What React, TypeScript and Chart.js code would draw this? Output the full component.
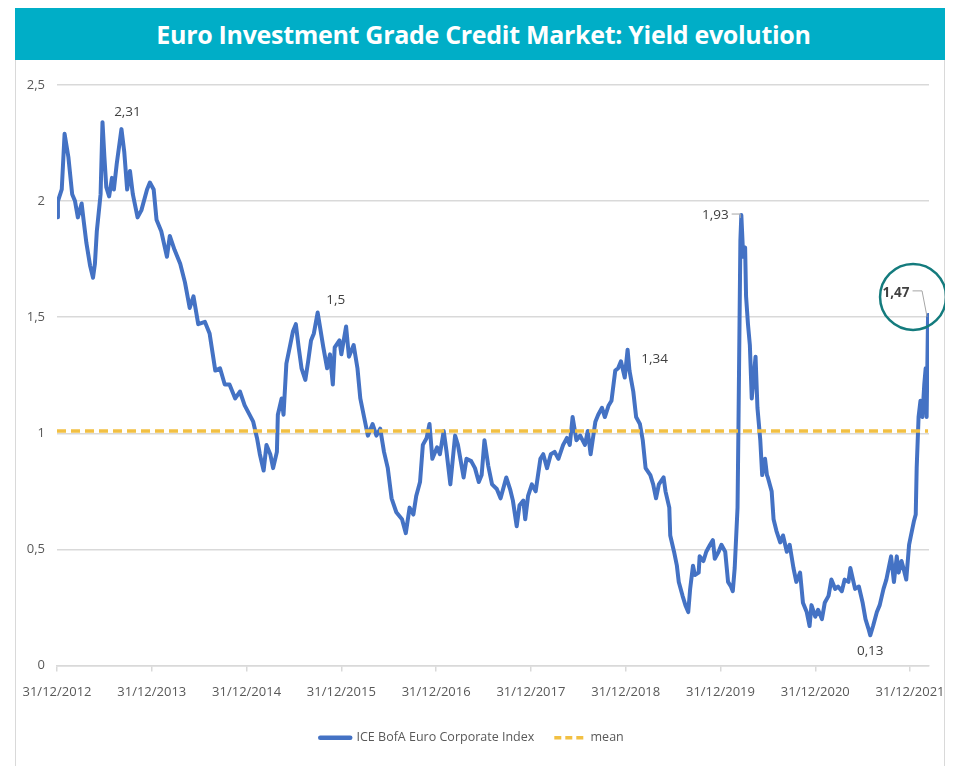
import React, { useEffect, useRef } from 'react';
import { Chart, registerables } from 'chart.js';

Chart.register(...registerables);

const TITLE = 'Euro Investment Grade Credit Market: Yield evolution';
const seriesName = 'ICE BofA Euro Corporate Index';
const meanName = 'mean';

// decimal years (31/12/2012 = 2013.00)
const dates = [
  2013.00, 2013.01, 2013.05, 2013.08, 2013.12, 2013.16, 2013.19, 2013.22, 2013.26, 2013.28,
  2013.31, 2013.35, 2013.38, 2013.40, 2013.42, 2013.45, 2013.46, 2013.48, 2013.50, 2013.52,
  2013.55, 2013.58, 2013.60, 2013.63, 2013.65, 2013.68, 2013.71, 2013.74, 2013.77, 2013.80,
  2013.85, 2013.89, 2013.95, 2013.98, 2014.02, 2014.05, 2014.10, 2014.16, 2014.19, 2014.24,
  2014.30, 2014.35, 2014.40, 2014.44, 2014.49, 2014.56, 2014.61, 2014.67, 2014.72, 2014.77,
  2014.82, 2014.88, 2014.93, 2014.98, 2015.07, 2015.11, 2015.14, 2015.18, 2015.21, 2015.25,
  2015.28, 2015.32, 2015.33, 2015.37, 2015.39, 2015.42, 2015.46, 2015.49, 2015.52, 2015.55,
  2015.58, 2015.62, 2015.65, 2015.68, 2015.71, 2015.75, 2015.77, 2015.81, 2015.85, 2015.88,
  2015.91, 2015.93, 2015.98, 2016.00, 2016.05, 2016.08, 2016.13, 2016.17, 2016.20, 2016.24,
  2016.28, 2016.33, 2016.37, 2016.41, 2016.45, 2016.49, 2016.53, 2016.58, 2016.64, 2016.68,
  2016.72, 2016.76, 2016.79, 2016.83, 2016.86, 2016.90, 2016.93, 2016.96, 2017.01, 2017.04,
  2017.08, 2017.11, 2017.15, 2017.20, 2017.23, 2017.29, 2017.32, 2017.37, 2017.41, 2017.45,
  2017.48, 2017.51, 2017.55, 2017.59, 2017.64, 2017.68, 2017.74, 2017.78, 2017.81, 2017.85,
  2017.88, 2017.92, 2017.94, 2017.97, 2018.01, 2018.05, 2018.10, 2018.13, 2018.17, 2018.21,
  2018.25, 2018.29, 2018.34, 2018.38, 2018.41, 2018.44, 2018.48, 2018.52, 2018.57, 2018.60,
  2018.63, 2018.68, 2018.71, 2018.75, 2018.78, 2018.82, 2018.85, 2018.89, 2018.92, 2018.95,
  2018.99, 2019.02, 2019.04, 2019.08, 2019.11, 2019.15, 2019.18, 2019.21, 2019.26, 2019.29,
  2019.32, 2019.35, 2019.40, 2019.42, 2019.46, 2019.47, 2019.51, 2019.54, 2019.56, 2019.60,
  2019.63, 2019.66, 2019.68, 2019.71, 2019.73, 2019.77, 2019.78, 2019.82, 2019.85, 2019.89,
  2019.92, 2019.94, 2019.98, 2020.01, 2020.05, 2020.08, 2020.11, 2020.13, 2020.15, 2020.18,
  2020.19, 2020.21, 2020.22, 2020.24, 2020.26, 2020.27, 2020.29, 2020.31, 2020.33, 2020.35,
  2020.37, 2020.39, 2020.42, 2020.44, 2020.47, 2020.49, 2020.50, 2020.54, 2020.56, 2020.59,
  2020.63, 2020.66, 2020.70, 2020.73, 2020.77, 2020.80, 2020.84, 2020.87, 2020.91, 2020.93,
  2020.94, 2020.96, 2021.00, 2021.03, 2021.07, 2021.10, 2021.14, 2021.17, 2021.21, 2021.24,
  2021.28, 2021.31, 2021.35, 2021.37, 2021.42, 2021.46, 2021.50, 2021.53, 2021.56, 2021.58,
  2021.61, 2021.65, 2021.68, 2021.72, 2021.75, 2021.78, 2021.80, 2021.83, 2021.86, 2021.88,
  2021.91, 2021.93, 2021.96, 2021.99, 2022.01, 2022.04, 2022.06, 2022.07, 2022.09, 2022.11,
  2022.13, 2022.15, 2022.165, 2022.175, 2022.19,
];

const yields = [
  1.93, 2.00, 2.05, 2.29, 2.19, 2.03, 2.00, 1.93, 1.99, 1.92,
  1.82, 1.72, 1.67, 1.73, 1.87, 1.99, 2.03, 2.34, 2.19, 2.06,
  2.02, 2.10, 2.05, 2.16, 2.22, 2.31, 2.21, 2.05, 2.13, 2.03,
  1.93, 1.96, 2.05, 2.08, 2.05, 1.92, 1.87, 1.76, 1.85, 1.79,
  1.73, 1.65, 1.54, 1.59, 1.47, 1.48, 1.43, 1.27, 1.28, 1.21,
  1.21, 1.15, 1.18, 1.12, 1.05, 0.98, 0.91, 0.84, 0.95, 0.91,
  0.85, 0.92, 1.08, 1.15, 1.08, 1.30, 1.38, 1.44, 1.47, 1.37,
  1.28, 1.23, 1.31, 1.40, 1.43, 1.52, 1.47, 1.37, 1.28, 1.34,
  1.21, 1.37, 1.40, 1.34, 1.46, 1.33, 1.38, 1.28, 1.15, 1.07,
  0.99, 1.04, 0.99, 1.02, 0.92, 0.85, 0.72, 0.66, 0.63, 0.57,
  0.68, 0.65, 0.73, 0.79, 0.95, 0.98, 1.04, 0.89, 0.94, 0.91,
  1.01, 0.92, 0.78, 0.99, 0.95, 0.81, 0.89, 0.88, 0.85, 0.79,
  0.82, 0.97, 0.86, 0.78, 0.76, 0.72, 0.81, 0.76, 0.71, 0.60,
  0.69, 0.71, 0.63, 0.73, 0.78, 0.75, 0.89, 0.91, 0.85, 0.91,
  0.92, 0.89, 0.95, 0.98, 0.95, 1.07, 0.97, 0.99, 0.95, 1.01,
  0.91, 1.05, 1.08, 1.11, 1.07, 1.12, 1.14, 1.27, 1.28, 1.31,
  1.24, 1.36, 1.27, 1.18, 1.07, 1.04, 0.97, 0.85, 0.82, 0.78,
  0.72, 0.78, 0.81, 0.75, 0.68, 0.56, 0.49, 0.43, 0.36, 0.30,
  0.26, 0.23, 0.33, 0.43, 0.39, 0.40, 0.47, 0.45, 0.49, 0.52,
  0.54, 0.46, 0.49, 0.52, 0.49, 0.36, 0.34, 0.32, 0.42, 0.68,
  1.04, 1.83, 1.94, 1.76, 1.80, 1.59, 1.47, 1.38, 1.15, 1.24,
  1.33, 1.11, 0.97, 0.82, 0.89, 0.82, 0.81, 0.75, 0.63, 0.58,
  0.53, 0.56, 0.49, 0.52, 0.42, 0.36, 0.40, 0.27, 0.23, 0.19,
  0.17, 0.26, 0.21, 0.24, 0.20, 0.27, 0.30, 0.37, 0.33, 0.34,
  0.32, 0.37, 0.36, 0.42, 0.33, 0.34, 0.27, 0.20, 0.16, 0.13,
  0.17, 0.23, 0.26, 0.33, 0.37, 0.43, 0.47, 0.36, 0.47, 0.40,
  0.45, 0.42, 0.37, 0.52, 0.56, 0.62, 0.65, 0.85, 1.07, 1.14,
  1.07, 1.21, 1.28, 1.07, 1.51,
];

const meanValue = 1.01;

const yearTicks = [2013, 2014, 2015, 2016, 2017, 2018, 2019, 2020, 2021, 2022];
const tickLabels = [
  '31/12/2012', '31/12/2013', '31/12/2014', '31/12/2015', '31/12/2016',
  '31/12/2017', '31/12/2018', '31/12/2019', '31/12/2020', '31/12/2021',
];
const yTickValues = [0, 0.5, 1, 1.5, 2, 2.5];
const yTickLabels = ['0', '0,5', '1', '1,5', '2', '2,5'];

// labelled points (dates of the points that carry a value label)
const labelDates = [2013.68, 2015.75, 2020.22, 2019.02, 2021.58, 2022.19];
const labelTexts = ['2,31', '1,5', '1,93', '1,34', '0,13', '1,47'];

const X_MIN = 2013;
const X_MAX = 2022.2;

const FONT = "'Open Sans', 'Noto Sans', sans-serif";
const BLUE = '#4472C4';
const GOLD = '#F2C043';

const annotationPlugin = {
  id: 'valueLabels',
  afterDatasetsDraw(chart: any) {
    const { ctx, scales } = chart;
    const xs = scales.x;
    const ys = scales.y;
    const styles: any[] = [
      { dx: 6, dy: -17 },
      { dx: 18, dy: -12 },
      { dx: -26, dy: 0, leader: 'left' },
      { dx: 27, dy: 9 },
      { dx: 0, dy: 16 },
      { dx: -32, dy: -22, bold: true, leader: 'end', circle: { dx: -15, dy: -18, r: 33 } },
    ];
    ctx.save();
    labelDates.forEach((d, i) => {
      const idx = dates.indexOf(d);
      if (idx < 0) return;
      const px = xs.getPixelForValue(d);
      const py = ys.getPixelForValue(yields[idx]);
      const st = styles[i];
      const tx = px + st.dx;
      const ty = py + st.dy;
      ctx.font = `${st.bold ? 'bold ' : ''}13.5px ${FONT}`;
      ctx.fillStyle = '#404040';
      ctx.textAlign = 'center';
      ctx.textBaseline = 'middle';
      ctx.fillText(labelTexts[i], tx, ty);
      const w = ctx.measureText(labelTexts[i]).width;
      ctx.strokeStyle = '#A6A6A6';
      ctx.lineWidth = 1;
      if (st.leader === 'left') {
        ctx.beginPath();
        ctx.moveTo(tx + w / 2 + 3, ty - 1);
        ctx.lineTo(px - 1, ty - 1);
        ctx.lineTo(px - 1, ty + 3);
        ctx.stroke();
      } else if (st.leader === 'end') {
        ctx.beginPath();
        ctx.moveTo(tx + w / 2 + 3, ty - 2);
        ctx.lineTo(px - 6, ty - 2);
        ctx.lineTo(px - 1, py + 2);
        ctx.stroke();
      }
      if (st.circle) {
        ctx.beginPath();
        ctx.strokeStyle = '#147B7D';
        ctx.lineWidth = 2.5;
        ctx.arc(px + st.circle.dx, py + st.circle.dy, st.circle.r, 0, Math.PI * 2);
        ctx.stroke();
      }
    });
    ctx.restore();
  },
};

function App() {
  const canvasRef = useRef<HTMLCanvasElement | null>(null);

  useEffect(() => {
    if (!canvasRef.current) return;
    const lineData = dates.map((d, i) => ({ x: d, y: yields[i] }));
    const meanData = [
      { x: X_MIN, y: meanValue },
      { x: dates[dates.length - 1], y: meanValue },
    ];
    const chart = new Chart(canvasRef.current, {
      type: 'line',
      data: {
        datasets: [
          {
            label: seriesName,
            data: lineData,
            borderColor: BLUE,
            backgroundColor: BLUE,
            borderWidth: 4,
            pointRadius: 0,
            tension: 0,
            borderJoinStyle: 'round',
            borderCapStyle: 'round',
            order: 2,
          },
          {
            label: meanName,
            data: meanData,
            borderColor: GOLD,
            backgroundColor: GOLD,
            borderWidth: 3.5,
            borderDash: [9, 5],
            pointRadius: 0,
            order: 1,
          },
        ],
      },
      options: {
        responsive: false,
        animation: false,
        devicePixelRatio: 1,
        layout: { padding: { left: 0, right: 16, top: 25, bottom: 12 } },
        scales: {
          x: {
            type: 'linear',
            min: X_MIN,
            max: X_MAX,
            afterBuildTicks: (scale: any) => {
              scale.ticks = yearTicks.map((v) => ({ value: v }));
            },
            afterFit: (scale: any) => {
              scale.height = 46;
              scale.paddingLeft = 0;
              scale.paddingRight = 0;
            },
            ticks: {
              autoSkip: false,
              maxRotation: 0,
              minRotation: 0,
              padding: 13,
              color: '#595959',
              font: { family: FONT, size: 13 },
              callback: (v: any) => {
                const i = yearTicks.indexOf(Number(v));
                return i >= 0 ? tickLabels[i] : '';
              },
            },
            grid: {
              drawOnChartArea: false,
              drawTicks: true,
              tickLength: 6,
              color: '#D9D9D9',
              lineWidth: 1.5,
            },
            border: { display: true, color: '#D9D9D9', width: 1.5 },
          },
          y: {
            type: 'linear',
            min: 0,
            max: 2.5,
            afterBuildTicks: (scale: any) => {
              scale.ticks = yTickValues.map((v) => ({ value: v }));
            },
            afterFit: (scale: any) => {
              scale.width = 42;
              scale.paddingTop = 0;
              scale.paddingBottom = 0;
            },
            ticks: {
              padding: 12,
              color: '#595959',
              font: { family: FONT, size: 13 },
              callback: (v: any) => {
                const i = yTickValues.indexOf(Number(v));
                return i >= 0 ? yTickLabels[i] : '';
              },
            },
            grid: {
              color: '#D9D9D9',
              lineWidth: 1.5,
              drawTicks: false,
            },
            border: { display: false },
          },
        },
        plugins: {
          title: { display: false },
          tooltip: { enabled: false },
          legend: {
            display: true,
            position: 'bottom',
            labels: {
              usePointStyle: true,
              pointStyle: 'line',
              pointStyleWidth: 30,
              padding: 20,
              color: '#595959',
              font: { family: FONT, size: 12.5 },
              generateLabels: (c: any) =>
                c.data.datasets.map((ds: any, i: number) => ({
                  text: ds.label,
                  datasetIndex: i,
                  fillStyle: ds.borderColor,
                  strokeStyle: ds.borderColor,
                  fontColor: '#595959',
                  lineWidth: i === 0 ? 4.5 : 3.5,
                  lineDash: i === 0 ? [] : [7, 4],
                  lineCap: i === 0 ? 'round' : 'butt',
                  pointStyle: 'line',
                  hidden: false,
                })),
            },
          },
        },
      },
      plugins: [annotationPlugin],
    } as any);
    return () => chart.destroy();
  }, []);

  return (
    <div style={{ position: 'relative', width: 939, height: 758 }}>
      <div
        style={{
          position: 'absolute',
          left: 7,
          top: 0,
          width: 930,
          height: 52,
          boxSizing: 'border-box',
          paddingLeft: 7,
          background: '#00AEC7',
          color: '#ffffff',
          fontFamily: FONT,
          fontWeight: 700,
          fontSize: 25,
          display: 'flex',
          alignItems: 'center',
          justifyContent: 'center',
          letterSpacing: -0.3,
        }}
      >
        {TITLE}
      </div>
      <div
        style={{
          position: 'absolute',
          left: 7,
          top: 52,
          width: 930,
          height: 706,
          boxSizing: 'border-box',
          borderLeft: '1px solid #D9D9D9',
          borderRight: '1px solid #D9D9D9',
        }}
      />
      <canvas
        ref={canvasRef}
        width={930}
        height={706}
        style={{ position: 'absolute', left: 7, top: 52, width: 930, height: 706 }}
      />
    </div>
  );
}

export default App;
